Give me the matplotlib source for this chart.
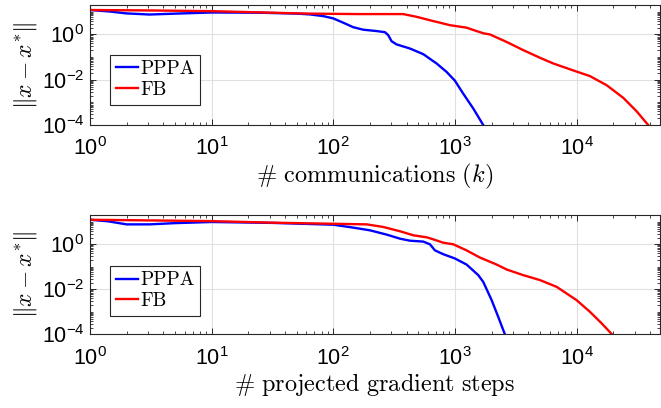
import numpy as np
import matplotlib
matplotlib.use("Agg")
import matplotlib.pyplot as plt
from matplotlib.ticker import FuncFormatter, LogLocator, FixedLocator
from matplotlib.font_manager import FontProperties

plt.rcParams["font.family"] = "Liberation Sans"

# curves, as (log10 x, log10 y) pairs
top_pppa_lx = [0.0, 0.15, 0.30, 0.49, 0.7, 1.0, 1.4, 1.7, 1.808, 1.917, 1.999, 2.081, 2.164,
               2.246, 2.355, 2.424, 2.451, 2.479, 2.52, 2.629, 2.739, 2.848, 2.93, 2.999,
               3.067, 3.15, 3.232]
top_pppa_ly = [1.08, 1.02, 0.93, 0.88, 0.92, 0.97, 0.96, 0.92, 0.885, 0.81, 0.71, 0.52, 0.32,
               0.21, 0.15, 0.10, -0.03, -0.30, -0.44, -0.62, -0.87, -1.28, -1.65, -2.04,
               -2.61, -3.27, -4.0]
top_fb_lx = [0.0, 0.5, 1.0, 1.5, 1.808, 2.205, 2.574, 2.684, 2.821, 2.876, 2.958, 3.095, 3.177,
             3.235, 3.287, 3.424, 3.56, 3.698, 3.807, 3.972, 4.109, 4.246, 4.383, 4.492, 4.588]
top_fb_ly = [1.08, 1.06, 1.03, 0.96, 0.92, 0.90, 0.90, 0.78, 0.59, 0.52, 0.41, 0.30, 0.15,
             0.05, 0.0, -0.33, -0.69, -1.03, -1.28, -1.59, -1.84, -2.24, -2.80, -3.39, -4.0]

bot_pppa_lx = [0.0, 0.15, 0.30, 0.49, 0.7, 1.0, 1.5, 1.808, 2.0, 2.164, 2.301, 2.438, 2.547,
               2.629, 2.739, 2.794, 2.835, 2.903, 2.999, 3.095, 3.191, 3.232, 3.301, 3.355, 3.41]
bot_pppa_ly = [1.09, 1.02, 0.885, 0.885, 0.94, 0.99, 0.95, 0.90, 0.87, 0.74, 0.62, 0.43, 0.25,
               0.16, 0.12, 0.0, -0.27, -0.44, -0.63, -0.90, -1.37, -1.67, -2.48, -3.22, -4.0]
bot_fb_lx = [0.0, 0.5, 1.0, 1.5, 1.808, 2.274, 2.41, 2.547, 2.657, 2.767, 2.821, 2.903, 2.985,
             3.095, 3.205, 3.342, 3.424, 3.56, 3.698, 3.835, 3.999, 4.109, 4.205, 4.29]
bot_fb_ly = [1.09, 1.06, 1.03, 0.96, 0.93, 0.885, 0.77, 0.58, 0.40, 0.31, 0.22, 0.07, 0.0,
             -0.27, -0.59, -0.90, -1.12, -1.37, -1.59, -1.89, -2.48, -3.0, -3.51, -4.0]

legend_names = ["PPPA", "FB"]
xlabels = [r"$\#\ \mathrm{communications}\ (k)$", r"$\#\ \mathrm{projected\ gradient\ steps}$"]
ylab = r"$\|x-x^{*}\|$"

def sci(v, pos):
    return r"$\mathregular{10^{%d}}$" % int(round(np.log10(v)))

fig = plt.figure(figsize=(6.61, 4.08), dpi=100)
ax_top = fig.add_axes([90/661, (408-125)/408, 570/661, 120/408])
ax_bot = fig.add_axes([90/661, (408-334.3)/408, 570/661, 119.3/408])

curves = [(top_pppa_lx, top_pppa_ly, top_fb_lx, top_fb_ly),
          (bot_pppa_lx, bot_pppa_ly, bot_fb_lx, bot_fb_ly)]
leg_y = [0.167, 0.153]

for ax, (plx, ply, flx, fly), xl, ly in zip([ax_top, ax_bot], curves, xlabels, leg_y):
    ax.plot(10**np.array(plx), 10**np.array(ply), color=(0, 0, 1), lw=1.7, label=legend_names[0])
    ax.plot(10**np.array(flx), 10**np.array(fly), color=(1, 0, 0), lw=1.7, label=legend_names[1])
    ax.set_xscale("log")
    ax.set_yscale("log")
    ax.set_xlim(1, 10**4.685)
    ax.set_ylim(1e-4, 20)
    ax.xaxis.set_major_locator(FixedLocator([1, 10, 100, 1e3, 1e4]))
    ax.xaxis.set_minor_locator(LogLocator(base=10, subs=np.arange(2, 10), numticks=20))
    ax.yaxis.set_major_locator(FixedLocator([1e-4, 1e-2, 1]))
    ax.yaxis.set_minor_locator(LogLocator(base=10, subs=np.arange(1, 10), numticks=20))
    ax.xaxis.set_major_formatter(FuncFormatter(sci))
    ax.yaxis.set_major_formatter(FuncFormatter(sci))
    ax.xaxis.set_minor_formatter(plt.NullFormatter())
    ax.yaxis.set_minor_formatter(plt.NullFormatter())
    ax.tick_params(which="both", direction="in", top=True, right=True, color="#262626")
    ax.tick_params(which="major", length=4, width=0.7, labelsize=15.5)
    ax.tick_params(axis="x", which="major", pad=9)
    ax.tick_params(axis="y", which="major", pad=4)
    ax.tick_params(which="minor", length=2.5, width=0.6)
    ax.grid(True, which="major", color="#e0e0e0", lw=0.8)
    ax.set_axisbelow(True)
    for s in ax.spines.values():
        s.set_color("#262626")
        s.set_linewidth(0.8)
    ax.set_xlabel(xl, fontsize=17.5, math_fontfamily="cm", labelpad=1)
    ax.set_ylabel(ylab, fontsize=17, math_fontfamily="cm", labelpad=2)
    leg = ax.legend(loc="lower left", bbox_to_anchor=(0.035, ly),
                    prop=FontProperties(family="cmr10", size=14),
                    fancybox=False, edgecolor="#262626", framealpha=1,
                    handlelength=1.15, handletextpad=0.1, borderpad=0.3, labelspacing=0.15,
                    borderaxespad=0)
    leg.get_frame().set_linewidth(0.8)

fig.savefig("out.png", dpi=100)
